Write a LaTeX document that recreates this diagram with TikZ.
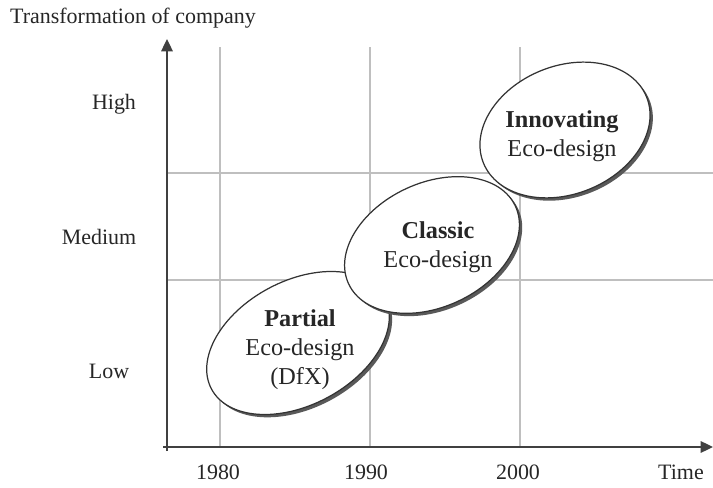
\documentclass[tikz,border=0pt]{standalone}
\usepackage{fontspec}
\setmainfont{Liberation Serif}
\usetikzlibrary{arrows.meta,shadows}
\tikzset{
 gridline/.style={draw=black!25,line width=0.8pt},
 axisline/.style={draw=black!75,line width=1.1pt,-{Triangle[length=7pt,width=6.5pt]}},
 axislabel/.style={font=\fontsize{12.5}{14}\selectfont,text=black!85},
 bubble/.style={draw=black!80,line width=0.7pt,fill=white,
  drop shadow={shadow xshift=1.6pt,shadow yshift=-1.6pt,fill=black!65,opacity=1}},
 bubbletext/.style={font=\fontsize{13.8}{16.5}\selectfont,text=black!85,align=center}
}
\begin{document}
\begin{tikzpicture}[x=0.02cm,y=0.02cm]
 \useasboundingbox (0,0) rectangle (713,487);
 \draw[gridline](220,40)--(220,440); 
 \draw[gridline](370,40)--(370,440); 
 \draw[gridline](520,40)--(520,440); 
 \draw[gridline](167,314)--(713,314); 
 \draw[gridline](167,207)--(713,207); 
 \coordinate (o) at (167,40); 
 \coordinate (ytop) at (167,448); 
 \coordinate (xend) at (713,40); 
 \draw[axisline](167,36)--(ytop); 
 \draw[axisline](163,40)--(xend); 
 \path[bubble](298,144) ellipse [x radius=98,y radius=62,rotate=28]; 
 \path[bubble](432,242) ellipse [x radius=92,y radius=62,rotate=25]; 
 \path[bubble](565,357) ellipse [x radius=88,y radius=64,rotate=22]; 
 \node[bubbletext] (partial) at (300,137) {\textbf{Partial}\\Eco-design\\(DfX)}; 
 \node[bubbletext] (classic) at (438,240) {\textbf{Classic}\\Eco-design}; 
 \node[bubbletext] (innovating) at (562,351) {\textbf{Innovating}\\Eco-design}; 
 \node[axislabel] (title) at (133,469) {Transformation of company}; 
 \node[axislabel] (high) at (114,383) {High}; 
 \node[axislabel] (medium) at (99,250) {Medium}; 
 \node[axislabel] (low) at (109,116) {Low}; 
 \node[axislabel] (y1980) at (218,15) {1980}; 
 \node[axislabel] (y1990) at (366,15) {1990}; 
 \node[axislabel] (y2000) at (518,15) {2000}; 
 \node[axislabel] (time) at (681,15) {Time}; 
\end{tikzpicture}
\end{document}
